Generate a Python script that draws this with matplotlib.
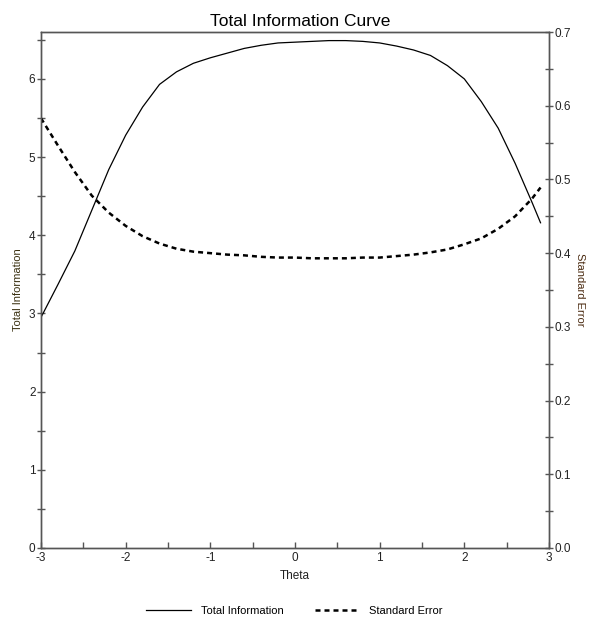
import matplotlib
matplotlib.use('Agg')
import matplotlib.pyplot as plt
import numpy as np

plt.rcParams['font.family'] = ['Liberation Sans', 'DejaVu Sans']

# values
theta = [-3.0, -2.8, -2.6, -2.4, -2.2, -2.0, -1.8, -1.6, -1.4, -1.2, -1.0,
         -0.8, -0.6, -0.4, -0.2, 0.0, 0.2, 0.4, 0.6, 0.8, 1.0,
         1.2, 1.4, 1.6, 1.8, 2.0, 2.2, 2.4, 2.6, 2.8, 2.9]
total_info = [2.95, 3.37, 3.80, 4.32, 4.84, 5.28, 5.64, 5.93, 6.09, 6.20, 6.27,
              6.33, 6.39, 6.43, 6.46, 6.47, 6.48, 6.49, 6.49, 6.48, 6.46,
              6.42, 6.37, 6.30, 6.17, 6.00, 5.71, 5.37, 4.92, 4.42, 4.16]
std_error = [0.583, 0.546, 0.510, 0.478, 0.455, 0.437, 0.423, 0.413, 0.406, 0.402, 0.400,
             0.398, 0.397, 0.395, 0.394, 0.394, 0.393, 0.393, 0.393, 0.394, 0.394,
             0.396, 0.398, 0.401, 0.405, 0.412, 0.420, 0.433, 0.450, 0.474, 0.489]

x_ticks = [-3, -2, -1, 0, 1, 2, 3]
x_labels = ['-3', '-2', '-1', '0', '1', '2', '3']
left_ticks = [0, 1, 2, 3, 4, 5, 6]
right_ticks = [0.0, 0.1, 0.2, 0.3, 0.4, 0.5, 0.6, 0.7]

spine_col = '#555555'
txt_col = '#222222'

fig = plt.figure(figsize=(5.89, 6.26), dpi=100)
ax = fig.add_axes([41/589, 78/626, 508/589, 516/626])
ax2 = ax.twinx()

l1, = ax.plot(theta, total_info, color='black', lw=0.9, label='Total Information')
l2, = ax2.plot(theta, std_error, color='black', lw=1.8, dashes=(2.0, 1.6),
               label='Standard Error')

ax.set_xlim(-3, 3)
ax.set_ylim(0, 6.6)
ax2.set_ylim(0, 0.7)

ax.set_xticks(x_ticks)
ax.set_xticklabels(x_labels)
ax.set_xticks(np.arange(-2.5, 3, 1.0), minor=True)
ax.set_yticks(left_ticks)
ax.set_yticks(np.arange(0.5, 6.6, 1.0), minor=True)
ax2.set_yticks(right_ticks)
ax2.set_yticklabels(['%.1f' % v for v in right_ticks])
ax2.set_yticks(np.arange(0.05, 0.7, 0.1), minor=True)

for a in (ax, ax2):
    for s in a.spines.values():
        s.set_color(spine_col)
        s.set_linewidth(1.0)

ax.tick_params(axis='x', which='both', direction='in', length=4, width=1,
               color=spine_col, labelsize=8.5, labelcolor=txt_col, pad=3)
ax.tick_params(axis='y', which='both', direction='inout', length=6, width=1,
               color=spine_col, labelsize=8.5, labelcolor=txt_col, pad=1)
ax2.tick_params(axis='y', which='both', direction='inout', length=6, width=1,
                color=spine_col, labelsize=8.5, labelcolor=txt_col, pad=1)

ax.set_xlabel('Theta', fontsize=8.5, color=txt_col, labelpad=4)
ax.set_ylabel('Total Information', fontsize=8, color='#3a3010', labelpad=4)
ax2.set_ylabel('Standard Error', fontsize=8, color='#4a2a10', rotation=-90,
               labelpad=10)

fig.text(0.51, 0.966, 'Total Information Curve', ha='center', va='center',
         fontsize=12.5, color='black')

fig.legend(handles=[l1, l2], loc='lower center', bbox_to_anchor=(0.5, 0.0),
           ncol=2, frameon=False, fontsize=8, handlelength=4.0,
           columnspacing=2.8, handletextpad=0.9)

fig.savefig('out.png', dpi=100)
